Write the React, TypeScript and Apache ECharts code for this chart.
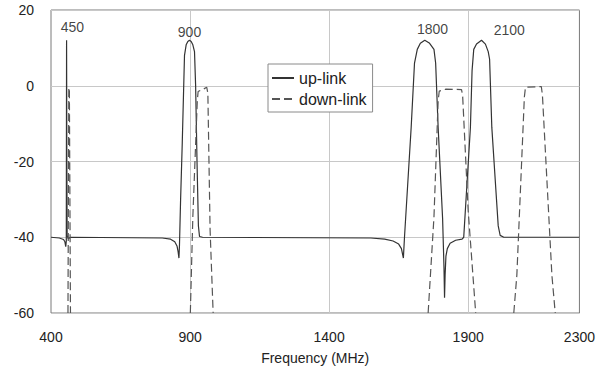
import React, { useEffect, useRef } from "react";
import * as echarts from "echarts";

// Axis ticks
const xTickValues = [400, 900, 1400, 1900, 2300];
const xGridValues = [900, 1400, 1900];

// Up-link response (solid): [frequency MHz, dB]
const upLink: [number, number][] = [
  [400, -40], [430, -40.2], [445, -40.6], [450, -41.2], [453, -42.5], [455, -41],
  [456, 12], [457, -20], [458, -39.5], [462, -40.4], [470, -40],
  [800, -40.2], [830, -40.5], [845, -41.2], [853, -42.3], [857, -43.8], [860, -45.5],
  [862, -42], [866, -30], [872, -15], [880, 8], [886, 10.8], [892, 11.7], [898, 12],
  [904, 11.7], [910, 10.8], [916, 9], [920, 0], [925, -20], [930, -37], [934, -39.8],
  [945, -40], [1550, -40.2], [1600, -40.5], [1630, -41], [1650, -41.8], [1660, -43],
  [1667, -45.5], [1671, -40], [1695, -11], [1707, 6], [1717, 9.6], [1728, 11.2],
  [1744, 12], [1760, 11.3], [1777, 9.6], [1783, 6], [1792, -11], [1808, -35],
  [1813, -48], [1815, -56], [1817, -50], [1820, -45], [1825, -43], [1835, -41.6],
  [1855, -40.8], [1878, -40.5], [1884, -40], [1908, -11], [1914, 4], [1920, 9.6],
  [1930, 11], [1948, 12], [1962, 11], [1972, 9], [1977, 7], [1985, -11], [2000, -28],
  [2008, -37], [2015, -39.5], [2028, -40], [2300, -40],
];

// Down-link responses (dashed), one per band
const downLink450: [number, number][] = [[461, -60], [464, -0.8], [466, -0.5], [470, -60]];
const downLink900: [number, number][] = [
  [901, -60], [910, -34.6], [926, -4], [929, -1.5], [945, -1], [960, -0.4], [964, -2], [972, -38], [983, -60],
];
const downLink1800: [number, number][] = [
  [1756, -60], [1777, -34.6], [1792, -4], [1796, -1.4], [1820, -0.9], [1876, -1], [1880, -2.5], [1900, -33], [1927, -60],
];
const downLink2100: [number, number][] = [
  [2064, -60], [2075, -50], [2102, -3], [2106, -0.4], [2163, -0.2], [2167, -2.5], [2201, -50], [2213, -60],
];

// Band annotations
const bandLabels = ["450", "900", "1800", "2100"];
const bandLabelFreq = [477, 898, 1772, 2048];
const bandLabelDb = [15.6, 14.3, 15.1, 14.6];

const FONT = "'Liberation Sans', Arial, sans-serif";

export default function App() {
  const ref = useRef<HTMLDivElement>(null);

  useEffect(() => {
    if (!ref.current) return;
    const chart = echarts.init(ref.current, undefined, { renderer: "svg" });

    const downLink = [
      ...downLink450, [700, null],
      ...downLink900, [1300, null],
      ...downLink1800, [2000, null],
      ...downLink2100,
    ];

    chart.setOption({
      animation: false,
      backgroundColor: "#ffffff",
      textStyle: { fontFamily: FONT },
      grid: {
        left: 51, right: 17, top: 10, bottom: 53,
        show: true, borderColor: "#7a7a7a", borderWidth: 1, backgroundColor: "#ffffff",
      },
      legend: {
        data: ["up-link", "down-link"],
        orient: "vertical",
        left: 268, top: 64,
        itemWidth: 22, itemHeight: 10, itemGap: 5,
        padding: [6, 6, 5, 3],
        borderColor: "#8a8a8a", borderWidth: 1, backgroundColor: "#ffffff",
        itemStyle: { opacity: 0, borderWidth: 0 },
        textStyle: { fontSize: 16, color: "#222", fontFamily: FONT },
      },
      xAxis: {
        type: "value", min: 400, max: 2300,
        axisLine: { show: false }, axisTick: { show: false, customValues: xTickValues },
        splitLine: { show: false },
        axisLabel: {
          customValues: xTickValues, fontSize: 14, margin: 17, color: "#222", fontFamily: FONT,
          formatter: (v: number) => String(v),
        },
        name: "Frequency (MHz)", nameLocation: "middle", nameGap: 38,
        nameTextStyle: { fontSize: 14, color: "#222", fontFamily: FONT },
      },
      yAxis: {
        type: "value", min: -60, max: 20, interval: 20,
        axisLine: { show: false }, axisTick: { show: false },
        splitLine: { show: true, lineStyle: { color: "#c8c8c8", width: 1 } },
        axisLabel: { fontSize: 14, margin: 17, color: "#222", fontFamily: FONT, formatter: (v: number) => String(v) },
      },
      series: [
        {
          name: "up-link", type: "line", data: upLink, symbol: "none",
          lineStyle: { color: "#333", width: 1.2 }, itemStyle: { color: "#333" },
          z: 3,
          markLine: {
            silent: true, z: 1, symbol: ["none", "none"], label: { show: false },
            lineStyle: { color: "#c8c8c8", type: "solid", width: 1 },
            data: xGridValues.map((v) => ({ xAxis: v })),
          },
        },
        {
          name: "down-link", type: "line", data: downLink, symbol: "none",
          connectNulls: false,
          lineStyle: { color: "#555", width: 1.2, type: [8, 4] }, itemStyle: { color: "#555" },
          z: 3,
        },
        {
          name: "labels", type: "scatter", symbolSize: 0, silent: true,
          data: bandLabelFreq.map((f, i) => [f, bandLabelDb[i], bandLabels[i]]),
          label: {
            show: true, position: "inside", formatter: (p: any) => p.data[2],
            fontSize: 14, color: "#111", fontFamily: FONT,
          },
        },
      ],
    });

    return () => chart.dispose();
  }, []);

  return (
    <div
      ref={ref}
      style={{ position: "fixed", left: 0, top: 0, width: 598, height: 370 }}
    />
  );
}
